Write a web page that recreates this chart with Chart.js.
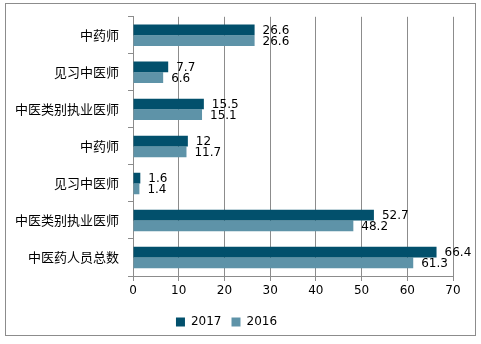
<!DOCTYPE html>
<html lang="zh">

<head>
    <meta charset="UTF-8">
    <title>中医药人员</title>
    <style>
        html, body { margin: 0; padding: 0; background: #fff; }
        canvas { display: block; }
    </style>
</head>

<body>
    <canvas id="chart" width="481" height="344"></canvas>

    <script src="https://cdn.jsdelivr.net/npm/chart.js@4/dist/chart.umd.min.js"></script>

    <script>
        // 类别（从上到下）
        const categories = ['中药师', '见习中医师', '中医类别执业医师', '中药师', '见习中医师', '中医类别执业医师', '中医药人员总数']

        // 两年的数值
        const values2017 = [26.6, 7.7, 15.5, 12, 1.6, 52.7, 66.4]
        const values2016 = [26.6, 6.6, 15.1, 11.7, 1.4, 48.2, 61.3]

        // x 轴刻度
        const xTicks = [0, 10, 20, 30, 40, 50, 60, 70]

        const ctx = document.getElementById('chart').getContext('2d')

        // 外框
        const frame = {
            id: 'frame',
            beforeDraw(chart) {
                const c = chart.ctx
                c.save()
                c.fillStyle = '#fff'
                c.fillRect(0, 0, chart.width, chart.height)
                c.strokeStyle = '#8c8c8c'
                c.lineWidth = 1
                c.strokeRect(5.5, 3.5, 470, 332)
                c.restore()
            }
        }

        // 数值标签，画在柱子右边
        const barLabels = {
            id: 'barLabels',
            afterDatasetsDraw(chart) {
                const c = chart.ctx
                c.save()
                c.font = '12px "DejaVu Sans", sans-serif'
                c.fillStyle = '#000'
                c.textAlign = 'left'
                c.textBaseline = 'middle'
                chart.data.datasets.forEach((ds, i) => {
                    chart.getDatasetMeta(i).data.forEach((bar, j) => {
                        c.fillText(String(ds.data[j]), bar.x + 8, bar.y + 1)
                    })
                })
                c.restore()
            }
        }

        new Chart(ctx, {
            type: 'bar',
            data: {
                labels: categories,
                datasets: [
                    {
                        label: '2017',
                        data: values2017,
                        backgroundColor: '#02506c',
                        categoryPercentage: 0.58,
                        barPercentage: 1
                    },
                    {
                        label: '2016',
                        data: values2016,
                        backgroundColor: '#5e93a8',
                        categoryPercentage: 0.58,
                        barPercentage: 1
                    }
                ]
            },
            options: {
                indexAxis: 'y',
                responsive: false,
                animation: false,
                layout: { padding: { top: 15, right: 28, bottom: 6, left: 0 } },
                scales: {
                    x: {
                        min: 0,
                        max: 70,
                        afterBuildTicks(scale) {
                            scale.ticks = xTicks.map(v => ({ value: v }))
                        },
                        afterFit(scale) { scale.height = 30 },
                        grid: { color: '#8c8c8c', tickLength: 5 },
                        border: { color: '#8c8c8c' },
                        ticks: {
                            color: '#000',
                            padding: 3,
                            maxRotation: 0,
                            autoSkip: false,
                            font: { family: '"DejaVu Sans", sans-serif', size: 12 }
                        }
                    },
                    y: {
                        afterFit(scale) { scale.width = 133 },
                        grid: { drawOnChartArea: false, color: '#8c8c8c', tickLength: 5, offset: true },
                        border: { color: '#8c8c8c' },
                        ticks: {
                            color: '#000',
                            padding: 9,
                            autoSkip: false,
                            font: { family: '"Noto Sans CJK SC", sans-serif', size: 13 }
                        }
                    }
                },
                plugins: {
                    legend: {
                        position: 'bottom',
                        labels: {
                            color: '#000',
                            boxWidth: 9,
                            boxHeight: 9,
                            padding: 10,
                            font: { family: '"DejaVu Sans", sans-serif', size: 12 }
                        }
                    },
                    tooltip: { enabled: false }
                }
            },
            plugins: [frame, barLabels]
        })
    </script>

</body>

</html>
